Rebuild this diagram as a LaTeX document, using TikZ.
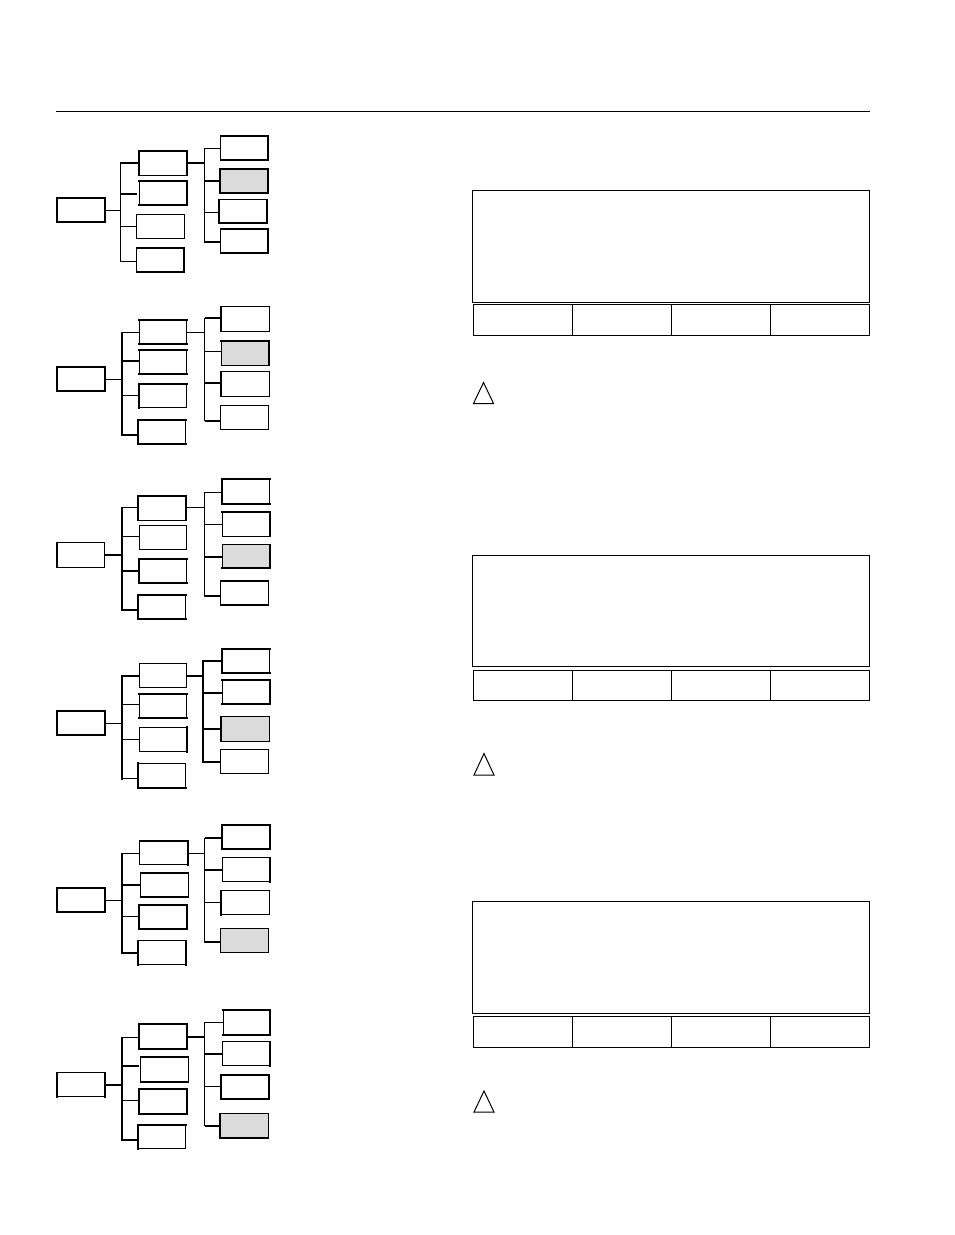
\documentclass[tikz,border=0pt]{standalone}
\definecolor{boxgray}{HTML}{DBDBDB}
\tikzset{
  thin line/.style={line width=1pt,draw=black},
  thick line/.style={line width=2pt,draw=black},
  sideline/.style={line width=2pt,draw=black,line cap=rect},
  boxnode/.style={rectangle,draw=black,line width=1pt,inner sep=0pt,outer sep=0pt},
  panel/.style={rectangle,draw=black,line width=1pt,inner sep=0pt,outer sep=0pt,fill=white},
  warn/.style={draw=black,line width=1pt,line join=miter}
}
\def\sideN#1{}
\def\sideL#1{\draw[sideline] (#1.north west) -- (#1.south west);}
\def\sideT#1{\draw[sideline] (#1.north west) -- (#1.north east);}
\def\sideR#1{\draw[sideline] (#1.north east) -- (#1.south east);}
\def\sideB#1{\draw[sideline] (#1.south west) -- (#1.south east);}
% \bx{name}{x0}{y0}{x1}{y1}{thick sides}{fill}
\newcommand{\bx}[7]{%
  \pgfmathsetmacro{\bxw}{#4-#2-0.5}\pgfmathsetmacro{\bxh}{#5-#3-0.3}%
  \pgfmathsetmacro{\bxx}{(#2+#4)/2-0.25}\pgfmathsetmacro{\bxy}{(#3+#5)/2-0.45}%
  \node[boxnode,fill=#7,minimum width=\bxw pt,minimum height=\bxh pt] (#1) at (\bxx,\bxy) {};
  \foreach \s in {#6} {\csname side\s\endcsname{#1}}%
}
% \bus{name}{x}{ytop}{ybottom}{style}
\newcommand{\bus}[5]{%
  \coordinate (#1a) at (#2,#3); \coordinate (#1b) at (#2,#4);
  \draw[#5,line cap=rect] (#1a) -- (#1b);
}
% \br{bus}{id}{y}{target}{style}
\newcommand{\br}[5]{%
  \coordinate (#1c#2) at (#1a |- 0,#3);
  \draw[#5] (#1c#2) -- (#1c#2 -| #4.west);
}
% \inl: incoming link from a box's east side to a bus
\newcommand{\inl}[5]{%
  \coordinate (#1i#2) at (#1a |- 0,#3);
  \draw[#5] (#4.east |- #1i#2) -- (#1i#2);
}
\begin{document}
\begin{tikzpicture}[x=1pt,y=-1pt]
\useasboundingbox (0,0) rectangle (954,1235);
\coordinate (hl) at (56,111.5); \coordinate (hr) at (870,111.5);
\draw[thin line] (hl) -- (hr);

% ---- tree 1
\bx{ar}{57}{198}{105}{223}{L,T,R,B}{white}
\bx{am1}{139}{151}{187}{176}{L,T,R}{white}
\bx{am2}{139}{181}{187}{206}{T,R,B}{white}
\bx{am3}{136.5}{214.5}{184.5}{239.5}{N}{white}
\bx{am4}{136.5}{248}{184.5}{273}{T,B,R}{white}
\bx{ao1}{220.5}{136}{268.5}{161}{T,R,B}{white}
\bx{ao2}{220}{169}{268}{194}{L,T,R,B}{boxgray}
\bx{ao3}{219}{200}{267}{224}{L,R,B}{white}
\bx{ao4}{220.5}{229}{268.5}{254}{T,R,B}{white}
\bus{ab}{120.5}{162.5}{261.5}{thin line}
\bus{ac}{204.5}{148.5}{242}{thin line}
\inl{ab}{s}{210.5}{ar}{thin line}
\br{ab}{1}{162.5}{am1}{thick line}
\br{ab}{2}{193.5}{am2}{thick line,shorten >=2pt}
\br{ab}{3}{226.5}{am3}{thin line}
\br{ab}{4}{261.5}{am4}{thin line}
\inl{ac}{s}{162.5}{am1}{thick line}
\br{ac}{1}{148.5}{ao1}{thin line}
\br{ac}{2}{181}{ao2}{thick line}
\br{ac}{3}{212.5}{ao3}{thin line}
\br{ac}{4}{242}{ao4}{thick line}

% ---- tree 2
\bx{br}{57}{367}{105}{392}{L,T,R,B}{white}
\bx{bm1}{139}{320}{187}{345}{T,B}{white}
\bx{bm2}{139}{350}{187}{375}{T,B}{white}
\bx{bm3}{139}{384}{187}{408.5}{L,T}{white}
\bx{bm4}{138}{420}{186}{444.5}{L,T,B}{white}
\bx{bo1}{221}{307}{269.5}{332}{L}{white}
\bx{bo2}{221}{341}{269.5}{366}{T,R}{boxgray}
\bx{bo3}{221}{372}{269.5}{397}{L}{white}
\bx{bo4}{220.5}{405.5}{268.5}{430.5}{N}{white}
\bus{bb}{122}{332.5}{435}{thick line}
\bus{bc}{204.5}{318}{420.5}{thin line}
\inl{bb}{s}{379.5}{br}{thin line}
\br{bb}{1}{332.5}{bm1}{thin line}
\br{bb}{2}{360.5}{bm2}{thick line}
\br{bb}{3}{395.5}{bm3}{thin line}
\br{bb}{4}{435}{bm4}{thick line}
\inl{bc}{s}{332.5}{bm1}{thin line}
\br{bc}{1}{318}{bo1}{thick line}
\br{bc}{2}{351.5}{bo2}{thin line}
\br{bc}{3}{382.5}{bo3}{thick line}
\br{bc}{4}{420.5}{bo4}{thick line}

% ---- tree 3
\bx{cr}{57}{543}{105}{568}{L}{white}
\bx{cm1}{138}{496}{186}{521}{L,T,R}{white}
\bx{cm2}{139}{525.5}{187}{550.5}{N}{white}
\bx{cm3}{139}{559}{187}{584}{L,T,B}{white}
\bx{cm4}{138}{595}{186}{620}{L,T,B}{white}
\bx{co1}{222}{479.5}{270}{504.5}{L,T,B}{white}
\bx{co2}{222}{512}{270}{537}{T,R}{white}
\bx{co3}{222}{545}{270}{569}{R,B}{boxgray}
\bx{co4}{220.5}{581}{268.5}{606}{T,B}{white}
\bus{cb}{122}{507.5}{610}{thick line}
\bus{cc}{204.5}{492.5}{596}{thin line}
\inl{cb}{s}{555}{cr}{thick line}
\br{cb}{1}{507.5}{cm1}{thin line}
\br{cb}{2}{536.5}{cm2}{thin line}
\br{cb}{3}{570.5}{cm3}{thick line}
\br{cb}{4}{610}{cm4}{thick line}
\inl{cc}{s}{507.5}{cm1}{thin line}
\br{cc}{1}{492.5}{co1}{thin line}
\br{cc}{2}{524.5}{co2}{thin line}
\br{cc}{3}{556.5}{co3}{thick line}
\br{cc}{4}{596}{co4}{thick line}

% ---- tree 4
\bx{dr}{57}{711}{105}{736}{L,T,R,B}{white}
\bx{dm1}{139}{663.5}{187}{688.5}{N}{white}
\bx{dm2}{139}{694}{187}{719}{T,B}{white}
\bx{dm3}{139}{727.5}{187}{752.5}{R}{white}
\bx{dm4}{138}{763.5}{186}{788.5}{L,B}{white}
\bx{do1}{222}{649}{270}{673.5}{L,T,B}{white}
\bx{do2}{222}{680}{270}{705}{T,R,B}{white}
\bx{do3}{221}{717}{269.5}{742}{L}{boxgray}
\bx{do4}{220.5}{749.5}{268.5}{774.5}{N}{white}
\bus{db}{122}{676}{778.5}{thick line}
\bus{dc}{203}{661}{761.5}{thick line}
\inl{db}{s}{723.5}{dr}{thin line}
\br{db}{1}{676}{dm1}{thick line}
\br{db}{2}{704.5}{dm2}{thin line}
\br{db}{3}{739.5}{dm3}{thin line}
\br{db}{4}{778.5}{dm4}{thin line}
\inl{dc}{s}{676}{dm1}{thick line}
\br{dc}{1}{661}{do1}{thick line}
\br{dc}{2}{692.5}{do2}{thick line}
\br{dc}{3}{728.5}{do3}{thick line}
\br{dc}{4}{761.5}{do4}{thick line}

% ---- tree 5
\bx{er}{57}{888}{105}{913}{L,T,R,B}{white}
\bx{em1}{139.5}{841}{188}{865.5}{T,R}{white}
\bx{em2}{140.5}{873}{188.5}{898}{T,B}{white}
\bx{em3}{139}{905}{187}{929.5}{L,T,R,B}{white}
\bx{em4}{138}{941}{186}{965.5}{L,R}{white}
\bx{eo1}{222}{825}{270}{850}{L,T,R,B}{white}
\bx{eo2}{222}{858}{270}{882.5}{R}{white}
\bx{eo3}{221}{891}{269.5}{915.5}{L}{white}
\bx{eo4}{220.5}{929}{268.5}{953.5}{N}{boxgray}
\bus{eb}{122}{853.5}{953}{thick line}
\bus{ec}{204.5}{838}{942}{thin line}
\inl{eb}{s}{900.5}{er}{thin line}
\br{eb}{1}{853.5}{em1}{thin line}
\br{eb}{2}{885}{em2}{thick line}
\br{eb}{3}{916.5}{em3}{thin line}
\br{eb}{4}{953}{em4}{thick line}
\inl{ec}{s}{853.5}{em1}{thin line}
\br{ec}{1}{838}{eo1}{thick line}
\br{ec}{2}{870}{eo2}{thick line}
\br{ec}{3}{902.5}{eo3}{thin line}
\br{ec}{4}{942}{eo4}{thick line}

% ---- tree 6
\bx{fr}{57}{1073}{105}{1097.5}{L,R}{white}
\bx{fm1}{139}{1024}{187}{1049.5}{L,T,R,B}{white}
\bx{fm2}{140.5}{1057}{188.5}{1082.5}{T,B}{white}
\bx{fm3}{139}{1089}{187}{1114.5}{L,T,R,B}{white}
\bx{fm4}{138}{1125}{186}{1149.5}{L,T}{white}
\bx{fo1}{223}{1010}{270.5}{1035.5}{T,R,B}{white}
\bx{fo2}{222}{1042}{270.5}{1066.5}{R}{white}
\bx{fo3}{221}{1075}{269.5}{1099.5}{L,T,R,B}{white}
\bx{fo4}{220}{1114}{268.5}{1138.5}{L,B}{boxgray}
\bus{fb}{122}{1037.5}{1140}{thick line}
\bus{fc}{204.5}{1022.5}{1125.5}{thin line}
\inl{fb}{s}{1085}{fr}{thick line}
\br{fb}{1}{1037.5}{fm1}{thin line}
\br{fb}{2}{1065.5}{fm2}{thick line,shorten >=2pt}
\br{fb}{3}{1100.5}{fm3}{thin line}
\br{fb}{4}{1140}{fm4}{thick line}
\inl{fc}{s}{1037}{fm1}{thick line}
\br{fc}{1}{1022.5}{fo1}{thin line}
\br{fc}{2}{1054}{fo2}{thick line}
\br{fc}{3}{1086.5}{fo3}{thin line}
\br{fc}{4}{1125.5}{fo4}{thick line}

% ---- panels
\node[panel,minimum width=397pt,minimum height=111.5pt] (pa) at (671.2,246.5) {};
\node[panel,minimum width=99pt,minimum height=30.5pt] (pa1) at (522.9,320) {};
\node[panel,minimum width=99pt,minimum height=30.5pt] (pa2) at (621.8,320) {};
\node[panel,minimum width=99pt,minimum height=30.5pt] (pa3) at (720.8,320) {};
\node[panel,minimum width=99pt,minimum height=30.5pt] (pa4) at (820,320) {};
\draw[warn] (483.5,382.5) -- (493.5,403.5) -- (473.5,403.5) -- cycle;

\node[panel,minimum width=397pt,minimum height=111.5pt] (pb) at (671.2,611) {};
\node[panel,minimum width=99pt,minimum height=30.5pt] (pb1) at (522.9,685.5) {};
\node[panel,minimum width=99pt,minimum height=30.5pt] (pb2) at (621.8,685.5) {};
\node[panel,minimum width=99pt,minimum height=30.5pt] (pb3) at (720.8,685.5) {};
\node[panel,minimum width=99pt,minimum height=30.5pt] (pb4) at (820,685.5) {};
\draw[warn] (484,753.5) -- (494,775) -- (474,775) -- cycle;

\node[panel,minimum width=397pt,minimum height=111.5pt] (pc) at (671.2,957.5) {};
\node[panel,minimum width=99pt,minimum height=30.5pt] (pc1) at (522.9,1032) {};
\node[panel,minimum width=99pt,minimum height=30.5pt] (pc2) at (621.8,1032) {};
\node[panel,minimum width=99pt,minimum height=30.5pt] (pc3) at (720.8,1032) {};
\node[panel,minimum width=99pt,minimum height=30.5pt] (pc4) at (820,1032) {};
\draw[warn] (484,1091) -- (494,1112) -- (474,1112) -- cycle;
\end{tikzpicture}
\end{document}
